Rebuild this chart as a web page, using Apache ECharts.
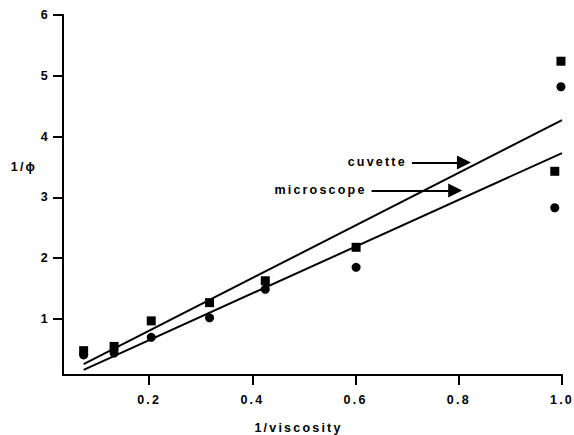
<!DOCTYPE html>
<html>
<head>
<meta charset="utf-8">
<script src="https://cdn.jsdelivr.net/npm/echarts@6/dist/echarts.min.js"></script>
<style>
  html, body { margin: 0; padding: 0; background: #fff; }
  #chart { width: 574px; height: 435px; }
  #chart text { letter-spacing: 2.2px; }
</style>
</head>
<body>
<div id="chart"></div>
<script>
// Measured points: 1/viscosity against 1/phi
const xValues = [0.073, 0.132, 0.204, 0.317, 0.425, 0.601, 0.986, 0.998];
const cuvetteValues = [0.48, 0.55, 0.97, 1.27, 1.63, 2.18, 3.43, 5.24];
const microscopeValues = [0.41, 0.44, 0.70, 1.02, 1.49, 1.85, 2.83, 4.82];

// Straight-line fits, given by their two end points
const fitX = [0.073, 1.0];
const cuvetteFit = [0.26, 4.27];
const microscopeFit = [0.165, 3.73];

// Axis ticks
const xTicks = [0.2, 0.4, 0.6, 0.8, 1.0];
const yTicks = [1, 2, 3, 4, 5, 6];

// Labelled arrows pointing at each fit line
const cuvetteArrow = { label: 'cuvette', from: 0.709, to: 0.81, y: 3.576 };
const microscopeArrow = { label: 'microscope', from: 0.631, to: 0.793, y: 3.115 };

const FONT = '"Liberation Sans", Arial, sans-serif';
const textStyle = { color: '#000', fontFamily: FONT, fontWeight: 'bold', fontSize: 12.5 };

function pairs(xs, ys) { return xs.map((x, i) => [x, ys[i]]); }

function arrowLine(a) {
  return {
    silent: true,
    symbol: ['none', 'triangle'],
    symbolSize: 14,
    lineStyle: { color: '#000', width: 2, type: 'solid' },
    label: Object.assign({ show: true, position: 'start', distance: 5, formatter: a.label }, textStyle),
    emphasis: { disabled: true },
    animation: false,
    data: [[{ coord: [a.from, a.y] }, { coord: [a.to, a.y] }]]
  };
}

const chart = echarts.init(document.getElementById('chart'), null, { renderer: 'svg' });
chart.setOption({
  animation: false,
  backgroundColor: '#fff',
  grid: { left: 63, right: 12, top: 15, bottom: 60, outerBoundsMode: 'none' },
  xAxis: {
    type: 'value', min: 0.033, max: 1.0,
    name: '1/viscosity', nameLocation: 'middle', nameGap: 46,
    nameTextStyle: Object.assign({ padding: [0, 28, 0, 0] }, textStyle),
    axisLine: { onZero: false, lineStyle: { color: '#000', width: 2 } },
    axisTick: { customValues: xTicks, length: 10, lineStyle: { color: '#000', width: 2 } },
    axisLabel: Object.assign({ customValues: xTicks, margin: 18, formatter: v => v.toFixed(1) }, textStyle),
    splitLine: { show: false }
  },
  yAxis: {
    type: 'value', min: 0.08, max: 6,
    name: '1/ϕ', nameLocation: 'middle', nameRotate: 0, nameGap: 19,
    nameTextStyle: Object.assign({ verticalAlign: 'bottom', padding: [0, 0, 22, 0] }, textStyle),
    axisLine: { onZero: false, lineStyle: { color: '#000', width: 2 } },
    axisTick: { customValues: yTicks, length: 10, lineStyle: { color: '#000', width: 2 } },
    axisLabel: Object.assign({ customValues: yTicks, margin: 13 }, textStyle),
    splitLine: { show: false }
  },
  series: [
    {
      name: 'cuvette fit', type: 'line', data: pairs(fitX, cuvetteFit),
      showSymbol: false, lineStyle: { color: '#000', width: 2 }, silent: true,
      markLine: arrowLine(cuvetteArrow)
    },
    {
      name: 'microscope fit', type: 'line', data: pairs(fitX, microscopeFit),
      showSymbol: false, lineStyle: { color: '#000', width: 2 }, silent: true,
      markLine: arrowLine(microscopeArrow)
    },
    {
      name: 'cuvette', type: 'scatter', symbol: 'rect', symbolSize: 9,
      itemStyle: { color: '#000', opacity: 1 }, data: pairs(xValues, cuvetteValues)
    },
    {
      name: 'microscope', type: 'scatter', symbol: 'circle', symbolSize: 9,
      itemStyle: { color: '#000', opacity: 1 }, data: pairs(xValues, microscopeValues)
    }
  ]
});
</script>
</body>
</html>
